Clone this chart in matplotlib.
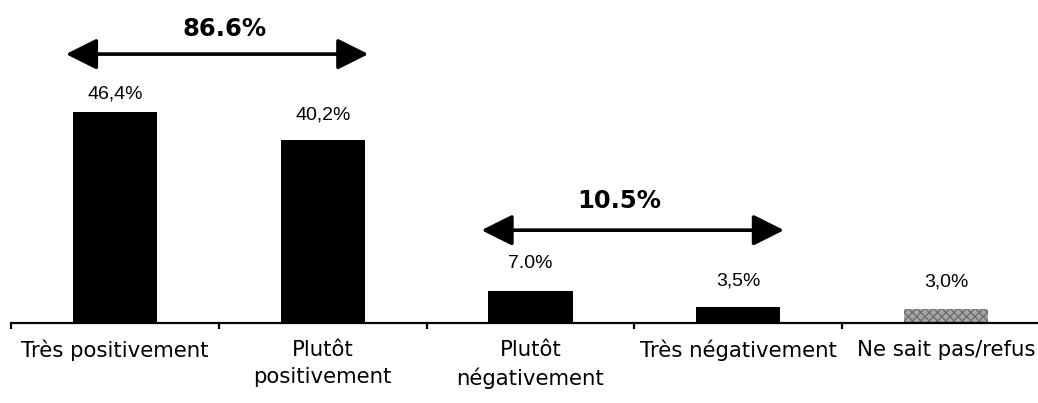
import matplotlib.pyplot as plt
import numpy as np
from matplotlib.patches import FancyArrowPatch

# --- Data ---
categories = ['Très positivement', 'Plutôt\npositivement', 'Plutôt\nnégativement',
              'Très négativement', 'Ne sait pas/refus']
values = [46.4, 40.2, 7.0, 3.5, 3.0]
value_labels = ['46,4%', '40,2%', '7.0%', '3,5%', '3,0%']

# grouped totals shown above the bars: (first index, last index, label)
group_totals = [(0, 1, '86.6%'), (2, 3, '10.5%')]

bar_colors = ['black', 'black', 'black', 'black', '#a6a6a6']
label_offsets = [9, 17, 19, 18, 19]  # px above bar top

plt.rcParams['hatch.color'] = '#6e6e6e'

W, H = 1038, 403
fig = plt.figure(figsize=(W / 100, H / 100), dpi=100)
px_per_pct = 4.55
base_px = 80
ax = fig.add_axes([11 / W, base_px / H, 1039 / W, (H - base_px) / H])

x = np.arange(len(categories))
bars = ax.bar(x, values, width=0.405, color=bar_colors, edgecolor='none')
bars[-1].set_hatch('xxxx')
bars[-1].set_edgecolor('#6e6e6e')
bars[-1].set_linewidth(0)

ax.set_xlim(-0.5, len(categories) - 0.5)
ax.set_ylim(0, (H - base_px) / px_per_pct)

for s in ['top', 'right', 'left']:
    ax.spines[s].set_visible(False)
ax.spines['bottom'].set_linewidth(1.6)
ax.set_yticks([])

# boundary ticks between categories, labels at centres
ax.set_xticks(np.arange(len(categories) + 1) - 0.5, minor=True)
ax.tick_params(axis='x', which='minor', direction='out', length=4, width=1.6)
ax.set_xticks(x)
ax.set_xticklabels(categories, fontsize=15.3, family='DejaVu Sans', linespacing=1.45)
ax.tick_params(axis='x', which='major', length=0, pad=12)

# value labels
for xi, v, lab, off in zip(x, values, value_labels, label_offsets):
    ax.annotate(lab, xy=(xi, v), xytext=(0, off * 0.72), textcoords='offset points',
                ha='center', va='bottom', fontsize=14, family='Liberation Sans')

# double-headed arrows with totals
arrow_y = [59.1, 20.4]
text_y = [64.6, 26.9]
text_dx = [0.034, -0.063]
for (i0, i1, lab), ay, ty, dx in zip(group_totals, arrow_y, text_y, text_dx):
    x0 = i0 - 0.236
    x1 = i1 + 0.22
    arr = FancyArrowPatch((x0, ay), (x1, ay),
                          arrowstyle='<|-|>,head_length=1.9,head_width=0.95',
                          mutation_scale=10, lw=2.6, color='black',
                          shrinkA=0, shrinkB=0)
    ax.add_patch(arr)
    ax.text((x0 + x1) / 2 + dx, ty, lab, ha='center', va='center',
            fontsize=17.5, fontweight='bold', family='DejaVu Sans')

fig.savefig('out.png', dpi=100)
